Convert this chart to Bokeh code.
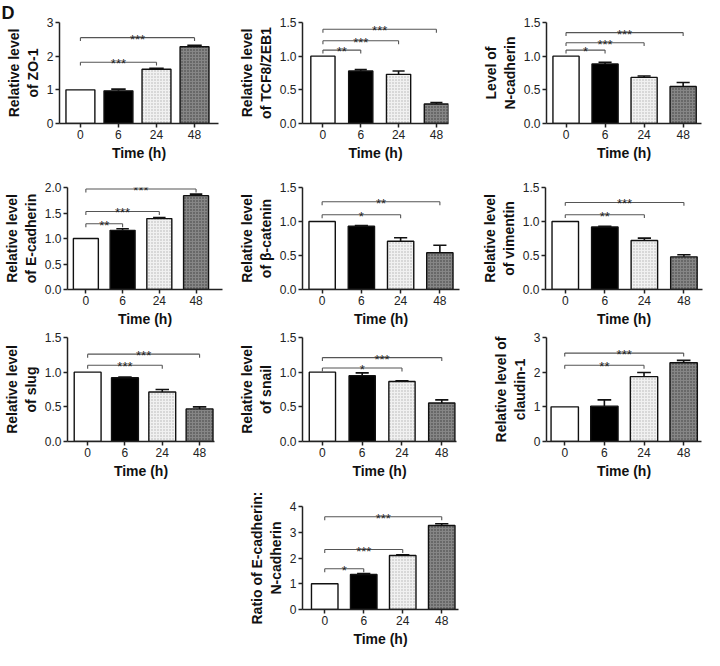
from bokeh.plotting import figure
from bokeh.layouts import column, row
from bokeh.models import Range1d, FixedTicker, Title, Spacer, ColumnDataSource
from bokeh.embed import file_html
from bokeh.resources import INLINE
from bokeh.core.properties import value

FONT = "Liberation Sans"

# ---------------- data ----------------
times = ["0", "6", "24", "48"]

zo1_mean = [1.00, 0.97, 1.61, 2.28]
zo1_err = [0.00, 0.05, 0.03, 0.04]
zo1_sig = [(2, "***", 1.82), (3, "***", 2.55)]

zeb1_mean = [1.00, 0.78, 0.73, 0.29]
zeb1_err = [0.00, 0.02, 0.05, 0.02]
zeb1_sig = [(1, "**", 1.09), (2, "***", 1.23), (3, "***", 1.40)]

ncad_mean = [1.00, 0.885, 0.685, 0.55]
ncad_err = [0.00, 0.025, 0.02, 0.06]
ncad_sig = [(1, "*", 1.09), (2, "***", 1.20), (3, "***", 1.35)]

ecad_mean = [1.00, 1.16, 1.39, 1.84]
ecad_err = [0.00, 0.03, 0.02, 0.03]
ecad_sig = [(1, "**", 1.29), (2, "***", 1.53), (3, "***", 1.97)]

bcat_mean = [1.00, 0.93, 0.71, 0.54]
bcat_err = [0.00, 0.01, 0.05, 0.11]
bcat_sig = [(2, "*", 1.10), (3, "**", 1.29)]

vim_mean = [1.00, 0.92, 0.72, 0.48]
vim_err = [0.00, 0.01, 0.035, 0.03]
vim_sig = [(2, "**", 1.10), (3, "***", 1.28)]

slug_mean = [1.00, 0.92, 0.715, 0.47]
slug_err = [0.00, 0.01, 0.035, 0.03]
slug_sig = [(2, "***", 1.10), (3, "***", 1.26)]

snail_mean = [1.00, 0.95, 0.865, 0.555]
snail_err = [0.00, 0.04, 0.01, 0.045]
snail_sig = [(2, "*", 1.06), (3, "***", 1.21)]

cld_mean = [1.00, 1.02, 1.87, 2.27]
cld_err = [0.00, 0.18, 0.12, 0.07]
cld_sig = [(2, "**", 2.20), (3, "***", 2.55)]

ratio_mean = [1.00, 1.36, 2.10, 3.26]
ratio_err = [0.00, 0.04, 0.02, 0.07]
ratio_sig = [(1, "*", 1.58), (2, "***", 2.33), (3, "***", 3.60)]

ticks_3 = [0, 1, 2, 3]
ticks_15 = [0.0, 0.5, 1.0, 1.5]
ticks_2 = [0.0, 0.5, 1.0, 1.5, 2.0]
ticks_4 = [0, 1, 2, 3, 4]

# bar styles (0 h, 6 h, 24 h, 48 h)
bar_fill = ["white", "black", "#f1f1f1", "#868686"]
bar_hatch = [" ", " ", "dot", "dot"]
bar_hatch_color = ["white", "black", "#b0b0b0", "#3c3c3c"]


def make_panel(ylabel, mean, err, sig, ymax, yticks, decimals, geom, xr, bw, letter=None):
    bl, fw, br, bt, fh, bb = geom
    p = figure(width=bl + fw + br, height=bt + fh + bb,
               x_range=Range1d(xr[0], xr[1]), y_range=Range1d(0, ymax),
               output_backend="svg", toolbar_location=None,
               min_border_left=bl, min_border_right=br,
               min_border_top=bt, min_border_bottom=bb)
    p.outline_line_color = None
    p.xgrid.visible = False
    p.ygrid.visible = False
    p.background_fill_color = "white"
    p.border_fill_color = "white"

    src = ColumnDataSource(dict(x=list(range(len(times))), top=mean,
                                fill=bar_fill, hatch=bar_hatch, hcol=bar_hatch_color))
    p.vbar(x="x", top="top", bottom=0, width=bw, source=src,
           fill_color="fill", line_color="#111111", line_width=1.4,
           hatch_pattern="hatch", hatch_color="hcol", hatch_scale=3, hatch_weight=1)

    # error bars (upper only)
    idx = [i for i in range(len(mean)) if err[i] > 0]
    cap = bw * 0.25
    p.segment(x0=idx, x1=idx, y0=[mean[i] for i in idx],
              y1=[mean[i] + err[i] for i in idx], line_color="#111111", line_width=1.6)
    p.segment(x0=[i - cap for i in idx], x1=[i + cap for i in idx],
              y0=[mean[i] + err[i] for i in idx], y1=[mean[i] + err[i] for i in idx],
              line_color="#111111", line_width=1.6)

    # significance brackets
    per_px = ymax / fh
    tick = 3.5 * per_px
    x0s, x1s, y0s, y1s = [], [], [], []
    tx, ty, tt = [], [], []
    for k, stars, h in sig:
        x0s += [0, 0, k]
        x1s += [k, 0, k]
        y0s += [h, h, h]
        y1s += [h, h - tick, h - tick]
        tx.append(k / 2.0)
        ty.append(h - 1.5 * per_px)
        tt.append(stars)
    p.segment(x0=x0s, x1=x1s, y0=y0s, y1=y1s, line_color="#555555", line_width=1.1)
    p.text(x=tx, y=ty, text=tt, text_align="center", text_baseline="alphabetic",
           text_font=value(FONT), text_font_size="13px", text_color="#222222")

    # axes
    p.xaxis.ticker = FixedTicker(ticks=list(range(len(times))))
    p.xaxis.major_label_overrides = {i: t for i, t in enumerate(times)}
    p.yaxis.ticker = FixedTicker(ticks=yticks)
    p.yaxis.major_label_overrides = {t: f"{t:.{decimals}f}" for t in yticks}
    for ax in (p.xaxis[0], p.yaxis[0]):
        ax.axis_line_color = "#222222"
        ax.axis_line_width = 1.5
        ax.major_tick_line_color = "#222222"
        ax.major_tick_line_width = 1.5
        ax.major_tick_out = 4
        ax.major_tick_in = 0
        ax.minor_tick_line_color = None
        ax.major_label_text_font = FONT
        ax.major_label_text_font_size = "12px"
        ax.major_label_text_color = "#222222"
        ax.major_label_standoff = 2
        ax.axis_label_text_font = FONT
        ax.axis_label_text_font_style = "bold"
        ax.axis_label_text_font_size = "14px"
        ax.axis_label_text_color = "#111111"
        ax.axis_label_standoff = 3
    p.xaxis.axis_label = "Time (h)"
    p.yaxis.axis_label = ylabel

    if letter:
        p.add_layout(Title(text=letter, align="left", offset=-bl + 1, standoff=0,
                           text_font=FONT, text_font_style="bold", text_font_size="18px",
                           text_color="#111111"), "above")
    return p


p1 = make_panel("Relative level\nof ZO-1", zo1_mean, zo1_err, zo1_sig, 3, ticks_3, 0,
                (59, 159, 17, 19, 106, 41), (-0.55, 3.63), 0.76, letter="D")
p2 = make_panel("Relative level\nof TCF8/ZEB1", zeb1_mean, zeb1_err, zeb1_sig, 1.5, ticks_15, 1,
                (66, 147, 22, 21, 102, 43), (-0.54, 3.32), 0.64)
p3 = make_panel("Level of\nN-cadherin", ncad_mean, ncad_err, ncad_sig, 1.5, ticks_15, 1,
                (76, 155, 3, 18, 105, 43), (-0.5, 3.47), 0.67)
p4 = make_panel("Relative level\nof E-cadherin", ecad_mean, ecad_err, ecad_sig, 2.0, ticks_2, 1,
                (59, 163, 13, 21, 103, 42), (-0.5, 3.72), 0.68)
p5 = make_panel("Relative level\nof \u03b2-catenin", bcat_mean, bcat_err, bcat_sig, 1.5, ticks_15, 1,
                (67, 157, 11, 19, 104, 43), (-0.5, 3.5), 0.67)
p6 = make_panel("Relative level\nof vimentin", vim_mean, vim_err, vim_sig, 1.5, ticks_15, 1,
                (75, 157, 2, 18, 105, 43), (-0.5, 3.47), 0.67)
p7 = make_panel("Relative level\nof slug", slug_mean, slug_err, slug_sig, 1.5, ticks_15, 1,
                (59, 155, 21, 5, 104, 45), (-0.54, 3.4), 0.72)
p8 = make_panel("Relative level\nof snail", snail_mean, snail_err, snail_sig, 1.5, ticks_15, 1,
                (67, 154, 14, 5, 104, 45), (-0.5, 3.37), 0.66)
p9 = make_panel("Relative level of\nclaudin-1", cld_mean, cld_err, cld_sig, 3, ticks_3, 0,
                (76, 155, 3, 5, 104, 45), (-0.46, 3.45), 0.69)
p10 = make_panel("Ratio of E-cadherin:\nN-cadherin", ratio_mean, ratio_err, ratio_sig, 4, ticks_4, 0,
                 (67, 156, 12, 20, 103, 41), (-0.57, 3.43), 0.68)

layout = column(
    row(p1, p2, p3),
    row(p4, p5, p6),
    row(p7, p8, p9),
    row(Spacer(width=235, height=164), p10),
)

open("out.html", "w").write(file_html(layout, INLINE, title="EMT markers"))
